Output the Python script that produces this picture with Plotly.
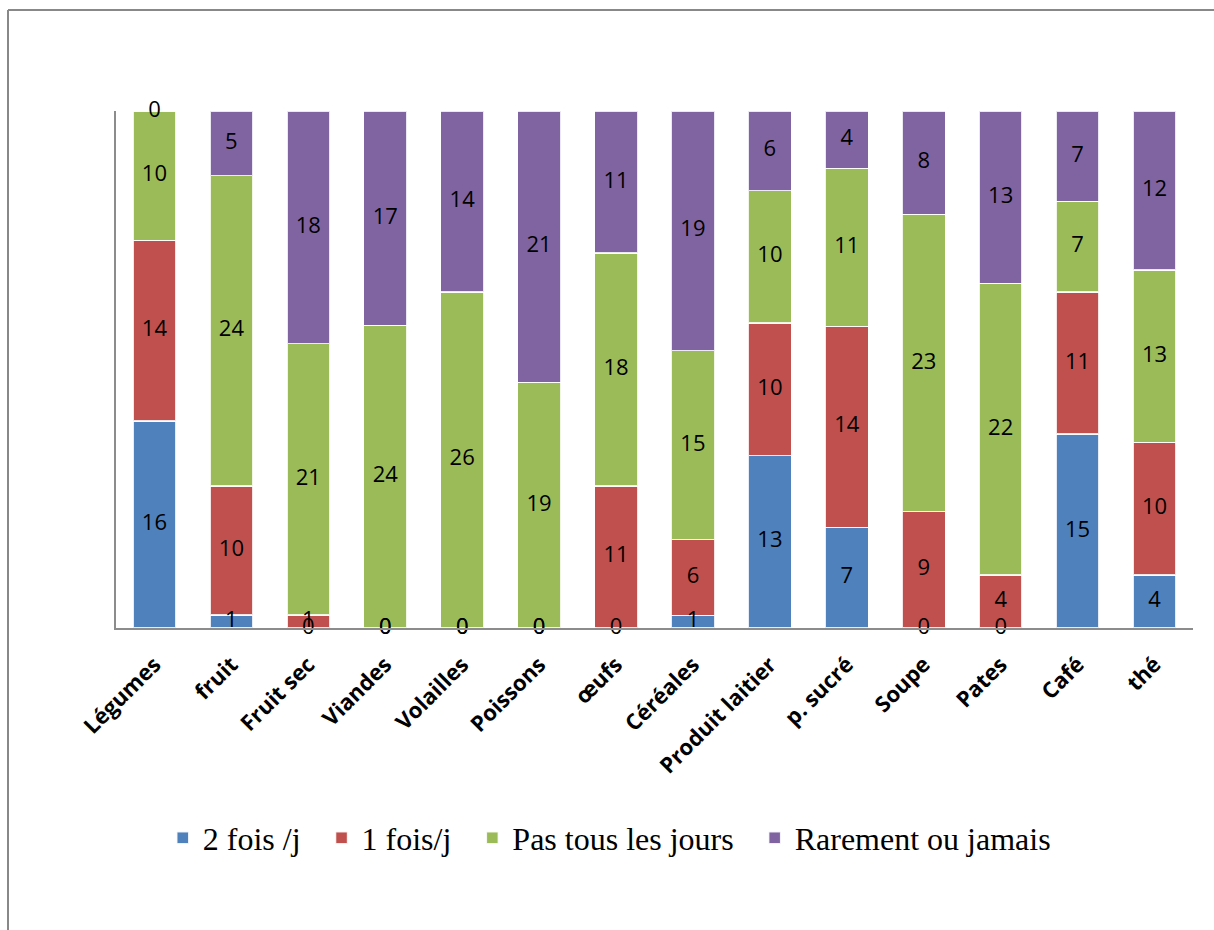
import plotly.graph_objects as go

# Food groups and frequency counts per group
categories = ['Légumes', 'fruit', 'Fruit sec', 'Viandes', 'Volailles', 'Poissons', 'œufs',
              'Céréales', 'Produit laitier', 'p. sucré', 'Soupe', 'Pates', 'Café', 'thé']
series_names = ['2 fois /j', '1 fois/j', 'Pas tous les jours', 'Rarement ou jamais']
deux_fois = [16, 1, 0, 0, 0, 0, 0, 1, 13, 7, 0, 0, 15, 4]
une_fois = [14, 10, 1, 0, 0, 0, 11, 6, 10, 14, 9, 4, 11, 10]
pas_tous = [10, 24, 21, 24, 26, 19, 18, 15, 10, 11, 23, 22, 7, 13]
rarement = [0, 5, 18, 17, 14, 21, 11, 19, 6, 4, 8, 13, 7, 12]
colors = ['#4F81BD', '#C0504D', '#9BBB59', '#8064A2']

series = [deux_fois, une_fois, pas_tous, rarement]
NBSP = '\u00a0'

fig = go.Figure()
for k, (name, vals, col) in enumerate(zip(series_names, series, colors)):
    pad = NBSP * 2 if k < len(series) - 1 else ''
    fig.add_trace(go.Bar(
        x=categories, y=vals, name=name + pad,
        marker=dict(color=col, line=dict(color='rgba(255,255,255,0.85)', width=1.5)),
        hovertemplate='%{x}<br>' + name + ': %{y}<extra></extra>',
    ))

# Value labels placed at the middle of each segment (percent scale)
totals = [sum(s[i] for s in series) for i in range(len(categories))]
for k, vals in enumerate(series):
    ys = []
    for i, v in enumerate(vals):
        below = sum(s[i] for s in series[:k])
        ys.append((below + v / 2) / totals[i] * 100)
    fig.add_trace(go.Scatter(
        x=categories, y=ys, mode='text', text=[str(v) for v in vals],
        textposition='middle center',
        textfont=dict(family='Open Sans', size=22, color='#000000'),
        showlegend=False, hoverinfo='skip', cliponaxis=False,
    ))

fig.update_layout(
    barmode='stack', barnorm='percent', bargap=0.44,
    width=1214, height=930,
    margin=dict(l=116, r=21, t=111, b=302),
    paper_bgcolor='white', plot_bgcolor='white',
    showlegend=True,
    legend=dict(orientation='h', x=0.458, xanchor='center', y=-0.406, yanchor='middle',
                font=dict(family='Liberation Serif', size=32, color='#000000'),
                traceorder='normal'),
    xaxis=dict(range=[-0.5, len(categories) - 0.5], showline=True, linecolor='#8c8c8c',
               linewidth=2, showgrid=False, ticks='', tickangle=-45, ticklabelstandoff=13,
               tickfont=dict(family='Open Sans', size=22, color='#000000', weight='bold')),
    yaxis=dict(range=[0, 100], showline=True, linecolor='#8c8c8c', linewidth=2,
               showgrid=False, showticklabels=False, ticks='', zeroline=False),
    shapes=[
        dict(type='line', xref='paper', yref='paper', x0=(8 - 116) / 1077, x1=(1214 - 116) / 1077,
             y0=(930 - 10 - 302) / 517, y1=(930 - 10 - 302) / 517,
             line=dict(color='#888888', width=2)),
        dict(type='line', xref='paper', yref='paper', x0=(8 - 116) / 1077, x1=(8 - 116) / 1077,
             y0=(930 - 10 - 302) / 517, y1=-302 / 517,
             line=dict(color='#888888', width=2)),
    ],
)

fig.write_html('out.html')
